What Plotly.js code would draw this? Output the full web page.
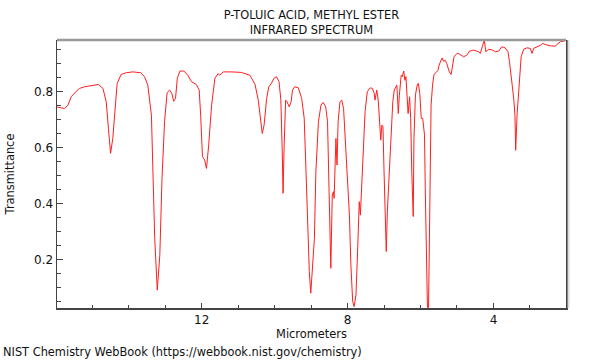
<!DOCTYPE html>
<html>
<head>
<meta charset="utf-8">
<script src="https://cdn.plot.ly/plotly-3.0.1.min.js"></script>
<style>html,body{margin:0;padding:0;background:#fff}#chart{width:600px;height:360px}</style>
</head>
<body>
<div id="chart"></div>
<script>
// Wavelength (micrometers)
const wavelength = [15.99,15.76,15.67,15.58,15.44,15.35,15.21,15.03,14.83,14.71,14.62,14.56,14.50,14.44,14.39,14.32,14.21,14.07,13.89,13.68,13.57,13.48,13.38,13.33,13.29,13.22,
13.15,13.09,13.02,12.95,12.88,12.82,12.77,12.72,12.67,12.60,12.49,12.38,12.28,12.15,12.07,12.03,11.98,11.92,11.87,11.81,11.73,11.64,11.55,11.51,11.41,11.18,10.91,10.68,10.54,10.45,10.39,10.34,10.29,10.22,10.16,10.09,10.02,9.95,9.88,9.83,9.79,9.77,9.74,9.70,9.66,9.60,9.55,9.51,9.45,9.35,9.26,9.19,9.14,9.10,9.05,9.01,8.97,8.91,8.87,8.80,8.73,8.67,8.60,8.55,8.51,8.48,8.46,8.42,8.39,8.37,8.35,8.32,8.29,8.26,8.21,8.16,8.11,8.05,8.00,7.95,7.91,7.86,7.82,7.77,7.72,7.68,7.65,7.61,7.57,7.52,7.46,7.38,7.32,7.27,7.25,7.20,7.16,7.12,7.09,7.06,7.03,7.00,6.97,6.94,6.91,6.86,6.81,6.76,6.72,6.65,6.62,6.61,6.58,6.53,6.50,6.46,6.43,6.40,6.37,6.34,6.30,6.27,6.24,6.20,6.18,6.14,6.09,6.06,6.02,5.98,5.94,5.89,5.87,5.84,5.81,5.78,5.76,5.74,5.71,5.67,5.63,5.57,5.52,5.49,5.44,5.41,5.37,5.32,5.28,5.21,5.16,5.12,5.08,5.00,4.96,4.82,4.73,4.66,4.55,4.41,4.36,4.30,4.25,4.21,4.13,4.02,3.95,3.86,3.77,3.68,3.60,3.56,3.52,3.48,3.44,3.41,3.39,3.37,3.35,3.32,3.28,3.24,3.17,3.08,2.99,2.94,2.90,2.80,2.71,2.65,2.58,2.44,2.30,2.26,2.16,2.07,2.01];
// Transmittance
const transmittance = [0.746,0.740,0.752,0.782,0.802,0.812,0.818,0.823,0.826,0.812,0.764,0.669,0.580,0.633,0.729,0.830,0.862,0.868,0.871,0.868,0.854,0.824,0.716,0.514,0.276,0.091,
0.216,0.490,0.693,0.797,0.806,0.794,0.766,0.776,0.848,0.874,0.874,0.859,0.836,0.826,0.806,0.716,0.568,0.556,0.526,0.609,0.752,0.848,0.865,0.859,0.871,0.871,0.869,0.859,0.827,0.770,0.698,0.651,0.681,0.776,0.818,0.830,0.848,0.854,0.836,0.770,0.574,0.437,0.609,0.770,0.764,0.746,0.764,0.806,0.818,0.814,0.776,0.705,0.514,0.312,0.157,0.080,0.157,0.276,0.514,0.693,0.752,0.762,0.746,0.693,0.455,0.276,0.169,0.431,0.443,0.419,0.526,0.633,0.538,0.693,0.764,0.770,0.740,0.597,0.466,0.359,0.181,0.050,0.032,0.074,0.252,0.407,0.359,0.490,0.633,0.729,0.800,0.814,0.812,0.794,0.770,0.806,0.770,0.681,0.627,0.681,0.675,0.514,0.336,0.229,0.371,0.514,0.657,0.764,0.806,0.824,0.752,0.722,0.788,0.859,0.854,0.874,0.841,0.854,0.788,0.722,0.782,0.705,0.514,0.354,0.633,0.788,0.824,0.830,0.794,0.705,0.705,0.645,0.455,0.157,0.029,0.029,0.216,0.514,0.752,0.824,0.862,0.869,0.877,0.895,0.909,0.921,0.909,0.912,0.901,0.871,0.862,0.901,0.925,0.937,0.937,0.925,0.931,0.945,0.949,0.943,0.937,0.964,0.984,0.943,0.952,0.949,0.943,0.945,0.961,0.957,0.943,0.907,0.848,0.818,0.770,0.716,0.591,0.705,0.722,0.776,0.871,0.925,0.952,0.957,0.955,0.937,0.955,0.961,0.966,0.973,0.969,0.964,0.963,0.969,0.979,0.981,0.984];
const chartTitle = 'P-TOLUIC ACID, METHYL ESTER<br>INFRARED SPECTRUM';
const xLabel = 'Micrometers';
const yLabel = 'Transmittance';
const sourceNote = 'NIST Chemistry WebBook (https://webbook.nist.gov/chemistry)';

const font = {family: 'DejaVu Sans, sans-serif', size: 12, color: '#111'};
const textFont = {family: 'DejaVu Sans, sans-serif', size: 11.4, color: '#111'};

Plotly.newPlot('chart', [{
  x: wavelength, y: transmittance, type: 'scatter', mode: 'lines',
  line: {color: 'rgb(255,30,30)', width: 1}, hoverinfo: 'skip'
}], {
  width: 600, height: 360,
  margin: {l: 57, r: 34, t: 40, b: 52},
  paper_bgcolor: '#fff', plot_bgcolor: '#fff',
  font: font,
  showlegend: false,
  title: {text: chartTitle, font: textFont, x: 0.519, xanchor: 'center', y: 0.948, yanchor: 'top', yref: 'container'},
  xaxis: {
    range: [15.97, 2.01], showgrid: false, zeroline: false,
    showline: true, linecolor: '#444', linewidth: 1.5, mirror: false,
    ticks: 'inside', tick0: 0, dtick: 4, ticklen: 5, tickcolor: '#444',
    minor: {ticks: 'inside', dtick: 1, tick0: 0, ticklen: 3, tickcolor: '#444', showgrid: false},
    tickfont: font,
    title: {text: xLabel, font: textFont, standoff: 3}
  },
  yaxis: {
    range: [0.027, 0.985], showgrid: false, zeroline: false,
    showline: true, linecolor: '#444', linewidth: 1.5, mirror: true,
    ticks: 'inside', tick0: 0, dtick: 0.2, ticklen: 6, tickcolor: '#444',
    minor: {ticks: 'inside', dtick: 0.05, tick0: 0, ticklen: 4, tickcolor: '#444', showgrid: false},
    tickformat: '.1f', tickfont: font,
    title: {text: yLabel, font: textFont, standoff: 17}
  },
  shapes: [
    {type: 'line', xref: 'paper', yref: 'paper', x0: 0, x1: 1, y0: 1, y1: 1, line: {color: '#999', width: 2.5}},
    {type: 'line', xref: 'paper', yref: 'paper', x0: 1.005, x1: 1.005, y0: 0, y1: 1, line: {color: '#ddd', width: 2}}
  ],
  annotations: [{
    text: sourceNote, xref: 'paper', yref: 'paper', x: -0.11, y: -0.164,
    xanchor: 'left', yanchor: 'middle', showarrow: false, font: textFont
  }]
}, {staticPlot: true, displayModeBar: false});
</script>
</body>
</html>
